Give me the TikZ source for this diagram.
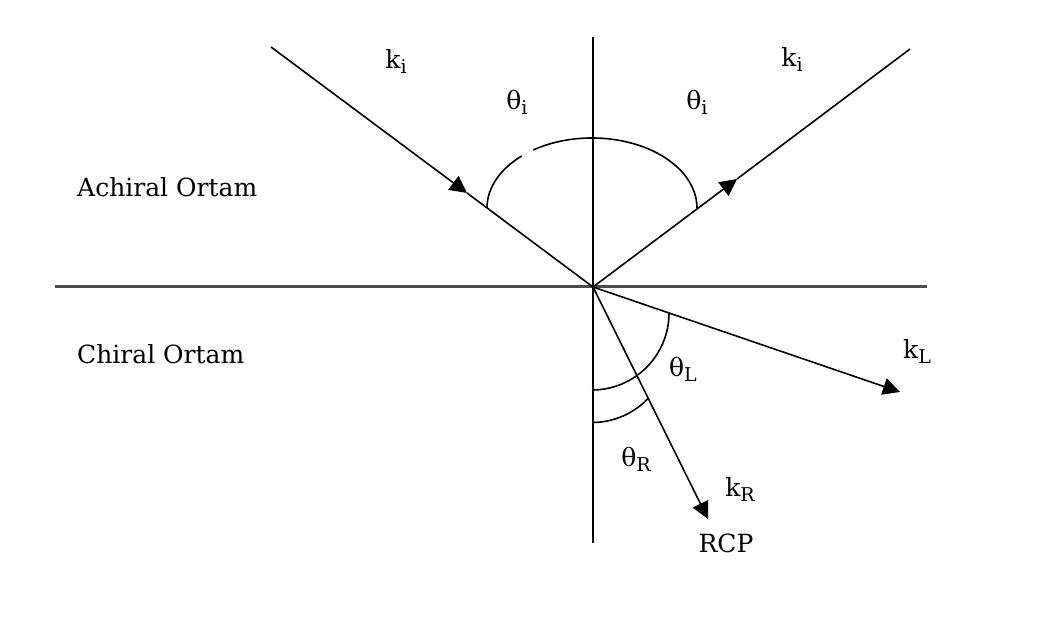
\documentclass[tikz,border=0pt]{standalone}
\usepackage{fontspec}
\setmainfont{DejaVu Serif}
\usetikzlibrary{arrows.meta}
\newcommand\subs[1]{\raisebox{-0.2em}{\fontsize{19}{19}\selectfont #1}}
\tikzset{
  ray/.style={line width=1.6pt, black},
  arrowray/.style={ray, -{Triangle[length=17pt,width=17pt]}},
  anglearc/.style={line width=1.6pt, black},
  lbl/.style={inner sep=0pt, font=\fontsize{25}{25}\selectfont},
}
\begin{document}
\begin{tikzpicture}[x=1pt,y=1pt]
\useasboundingbox (0,0) rectangle (1046,617);
\fill[white] (0,0) rectangle (1046,617);
% key points
\coordinate (O) at (593,330);
\coordinate (Vtop) at (593,580);
\coordinate (Vbot) at (593,74);
\coordinate (Hleft) at (55,330);
\coordinate (Hright) at (927,330);
\coordinate (Istart) at (271,570);
\coordinate (Itip) at (467,424);
\coordinate (Rend) at (910,568);
\coordinate (Rtip) at (737,438);
\coordinate (kLend) at (900,225);
\coordinate (kRend) at (708,98);
\coordinate (Cup) at (592,409);
\coordinate (CL) at (592,304);
\coordinate (CR) at (592,272);
% axes
\draw[line width=3pt, black!70] (Hleft) -- (Hright);
\draw[line width=2pt, black] (Vbot) -- (Vtop);
% incident ray
\draw[arrowray] (Istart) -- (Itip);
\draw[ray] (Itip) -- (O);
% reflected ray
\draw[arrowray] (O) -- (Rtip);
\draw[ray] (Rtip) -- (Rend);
% refracted rays
\draw[arrowray] (O) -- (kLend);
\draw[arrowray] (O) -- (kRend);
% upper angle arc (with small gap)
\draw[anglearc] (Cup) ++(180:105 and 70) arc[start angle=180, end angle=132, x radius=105, y radius=70];
\draw[anglearc] (Cup) ++(124:105 and 70) arc[start angle=124, end angle=0, x radius=105, y radius=70];
% lower angle arcs
\draw[anglearc] (CL) ++(0:77) arc[start angle=0, end angle=-90, radius=77];
\draw[anglearc] (CR) ++(-90:77.5) arc[start angle=-90, end angle=-43, radius=77.5];
% labels
\node[lbl] (ki1) at (396,555) {k\subs{i}};
\node[lbl] (thi1) at (517,515) {θ\subs{i}};
\node[lbl] (thi2) at (697,515) {θ\subs{i}};
\node[lbl] (ki2) at (792,557) {k\subs{i}};
\node[lbl, anchor=base west] (ach) at (77,420) {Achiral Ortam};
\node[lbl, anchor=base west] (chi) at (77,253) {Chiral Ortam};
\node[lbl] (thL) at (683,248) {θ\subs{L}};
\node[lbl] (thR) at (636,158) {θ\subs{R}};
\node[lbl] (kR) at (740,127) {k\subs{R}};
\node[lbl, anchor=base] (rcp) at (726,64) {RCP};
\node[lbl] (kL) at (917,265) {k\subs{L}};
\end{tikzpicture}
\end{document}
